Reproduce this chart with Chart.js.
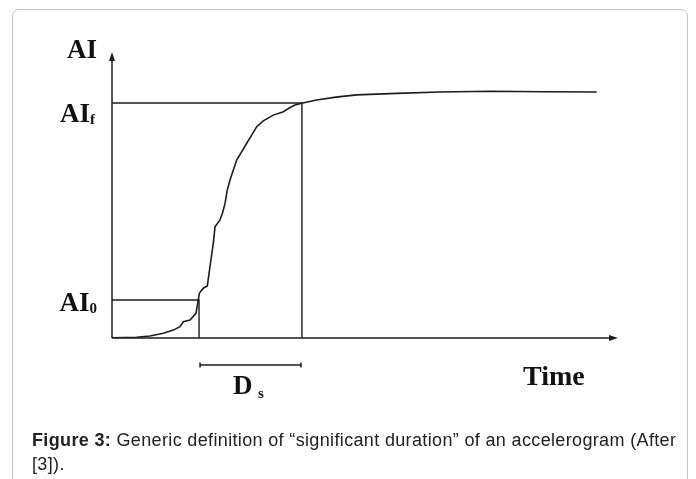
<!DOCTYPE html>
<html>
<head>
<meta charset="utf-8">
<script src="https://cdn.jsdelivr.net/npm/chart.js@4"></script>
<style>
  html, body { margin: 0; padding: 0; background: #fff; width: 696px; height: 479px; overflow: hidden; }
  #card { position: absolute; left: 12px; top: 9px; width: 676px; height: 520px; border: 1px solid #c4c4c4; border-radius: 7px; box-sizing: border-box; }
  #wrap { position: absolute; left: 0; top: 0; width: 696px; height: 479px; }
  #caption { position: absolute; left: 32px; top: 428px; width: 652px; font-family: "Liberation Sans", Arial, sans-serif; font-size: 18px; letter-spacing: 0.35px; line-height: 24px; color: #222; }
  #caption b { font-weight: bold; }
</style>
</head>
<body>
<div id="card"></div>
<div id="wrap"><canvas id="c" width="696" height="479"></canvas></div>
<div id="caption"><b>Figure 3:</b> Generic definition of “significant duration” of an accelerogram (After [3]).</div>
<script>
// Cumulative Arias intensity curve (normalised units)
const timeValues = [0.05, 2.44, 3.75, 5.07, 6.06, 6.72, 7.05, 7.71, 8.30, 8.47, 8.63, 9.02, 9.42, 9.68, 10.01, 10.18, 10.67, 10.92, 11.17, 11.39, 11.66, 11.99, 12.32, 12.82, 13.31, 13.80, 14.30, 14.95, 15.94, 16.93, 17.59, 18.08, 18.74, 20.23, 22.13, 24.18, 28.13, 32.41, 37.35, 42.62, 47.90];
const aiValues   = [0.001, 0.003, 0.008, 0.019, 0.032, 0.046, 0.066, 0.073, 0.100, 0.141, 0.181, 0.202, 0.211, 0.289, 0.384, 0.451, 0.479, 0.507, 0.546, 0.600, 0.641, 0.681, 0.722, 0.756, 0.790, 0.823, 0.857, 0.881, 0.904, 0.918, 0.935, 0.945, 0.952, 0.965, 0.977, 0.986, 0.992, 0.998, 1.001, 0.999, 0.998];
// Threshold levels and the times they are reached
const thresholdLevels = [0.154, 0.953];   // AI0, AIf
const thresholdTimes  = [8.60, 18.77];    // t0, tf
const axisLabels = { y: "AI", x: "Time", start: "AI", startSub: "0", end: "AI", endSub: "f", dur: "D", durSub: "s" };
const axisRange = { xMax: 50, yMax: 1.16 };

const ink = '#1c1c1c';
const curve = timeValues.map((t, i) => ({ x: t, y: aiValues[i] }));
const startLines = [{ x: 0, y: thresholdLevels[0] }, { x: thresholdTimes[0], y: thresholdLevels[0] }, { x: thresholdTimes[0], y: 0 }];
const endLines = [{ x: 0, y: thresholdLevels[1] }, { x: thresholdTimes[1], y: thresholdLevels[1] }, { x: thresholdTimes[1], y: 0 }];

const overlay = {
  id: 'overlay',
  afterDatasetsDraw(chart) {
    const ctx = chart.ctx;
    const a = chart.chartArea;
    const xs = chart.scales.x, ys = chart.scales.y;
    ctx.save();
    ctx.strokeStyle = ink; ctx.fillStyle = ink; ctx.lineWidth = 1.5;
    // axes
    ctx.beginPath();
    ctx.moveTo(a.left, a.bottom); ctx.lineTo(a.left, a.top + 4);
    ctx.moveTo(a.left, a.bottom); ctx.lineTo(a.right - 4, a.bottom);
    ctx.stroke();
    // arrow heads
    ctx.beginPath();
    ctx.moveTo(a.left, a.top); ctx.lineTo(a.left - 3, a.top + 9); ctx.lineTo(a.left + 3, a.top + 9); ctx.closePath();
    ctx.fill();
    ctx.beginPath();
    ctx.moveTo(a.right, a.bottom); ctx.lineTo(a.right - 9, a.bottom - 3); ctx.lineTo(a.right - 9, a.bottom + 3); ctx.closePath();
    ctx.fill();
    // Ds bar
    const x0 = xs.getPixelForValue(thresholdTimes[0]) + 1;
    const x1 = xs.getPixelForValue(thresholdTimes[1]) - 1;
    const by = a.bottom + 27;
    ctx.lineWidth = 1.5;
    ctx.beginPath();
    ctx.moveTo(x0, by); ctx.lineTo(x1, by);
    ctx.moveTo(x0, by - 2.5); ctx.lineTo(x0, by + 2.5);
    ctx.moveTo(x1, by - 2.5); ctx.lineTo(x1, by + 2.5);
    ctx.stroke();
    // labels
    ctx.fillStyle = '#111';
    ctx.textBaseline = 'alphabetic';
    const big = 'bold 27px "Liberation Serif", "Times New Roman", serif';
    const sub = 'bold 15px "Liberation Serif", "Times New Roman", serif';
    ctx.font = big; ctx.textAlign = 'right';
    ctx.fillText(axisLabels.y, a.left - 15, a.top + 6);
    const yf = ys.getPixelForValue(thresholdLevels[1]);
    const y0 = ys.getPixelForValue(thresholdLevels[0]);
    function subLabel(main, s, right, base) {
      ctx.font = sub; const sw = ctx.measureText(s).width;
      ctx.textAlign = 'left';
      ctx.font = big; const mw = ctx.measureText(main).width;
      const start = right - sw - mw;
      ctx.fillText(main, start, base);
      ctx.font = sub; ctx.fillText(s, start + mw, base + 2);
    }
    subLabel(axisLabels.end, axisLabels.endSub, a.left - 17, yf + 19);
    subLabel(axisLabels.start, axisLabels.startSub, a.left - 15, y0 + 11);
    // Time
    ctx.font = 'bold 28px "Liberation Serif", "Times New Roman", serif';
    ctx.textAlign = 'left';
    ctx.fillText(axisLabels.x, 523, a.bottom + 47);
    // Ds
    ctx.font = big;
    ctx.fillText(axisLabels.dur, 233, a.bottom + 56);
    ctx.font = sub;
    ctx.fillText(axisLabels.durSub, 258, a.bottom + 60);
    ctx.restore();
  }
};

new Chart(document.getElementById('c'), {
  type: 'line',
  data: {
    datasets: [
      { data: curve, borderColor: ink, borderWidth: 1.6, pointRadius: 0, tension: 0, fill: false },
      { data: startLines, borderColor: ink, borderWidth: 1.4, pointRadius: 0, tension: 0, fill: false },
      { data: endLines, borderColor: ink, borderWidth: 1.4, pointRadius: 0, tension: 0, fill: false }
    ]
  },
  options: {
    responsive: false,
    animation: false,
    events: [],
    layout: { padding: { left: 112, top: 52, right: 78, bottom: 141 } },
    plugins: { legend: { display: false }, tooltip: { enabled: false } },
    scales: {
      x: { type: 'linear', display: false, min: 0, max: axisRange.xMax },
      y: { type: 'linear', display: false, min: 0, max: axisRange.yMax }
    }
  },
  plugins: [overlay]
});
</script>
</body>
</html>
